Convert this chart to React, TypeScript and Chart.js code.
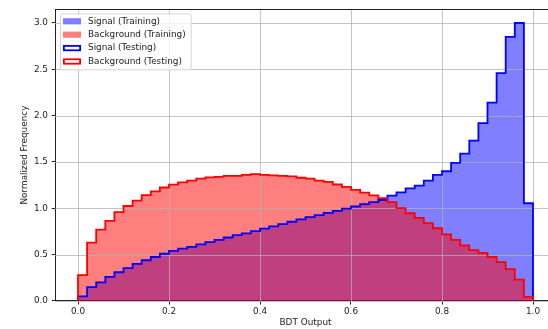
import React, { useEffect, useRef } from "react";
import { Chart, registerables } from "chart.js";

Chart.register(...registerables);

// ---- data ----
const binStart = 0;
const binEnd = 1;

const signalTraining = [
  0.05, 0.15, 0.2, 0.26, 0.31, 0.355, 0.4, 0.44, 0.475, 0.51,
  0.54, 0.565, 0.585, 0.61, 0.635, 0.66, 0.685, 0.71, 0.73, 0.755,
  0.78, 0.805, 0.83, 0.855, 0.88, 0.905, 0.926, 0.95, 0.972, 0.996,
  1.02, 1.045, 1.067, 1.09, 1.137, 1.172, 1.215, 1.245, 1.3, 1.36,
  1.4, 1.49, 1.59, 1.73, 1.92, 2.14, 2.46, 2.85, 3.0, 1.055,
];

const backgroundTraining = [
  0.28, 0.63, 0.77, 0.865, 0.96, 1.025, 1.083, 1.142, 1.183, 1.225,
  1.255, 1.28, 1.3, 1.32, 1.335, 1.34, 1.35, 1.35, 1.36, 1.37,
  1.36, 1.355, 1.35, 1.345, 1.33, 1.32, 1.3, 1.285, 1.257, 1.232,
  1.2, 1.17, 1.14, 1.11, 1.067, 1.003, 0.947, 0.898, 0.84, 0.785,
  0.72, 0.66, 0.6, 0.55, 0.52, 0.475, 0.42, 0.345, 0.23, 0.045,
];

const signalTesting = [
  0.05, 0.15, 0.2, 0.26, 0.31, 0.355, 0.4, 0.44, 0.475, 0.51,
  0.54, 0.565, 0.585, 0.61, 0.635, 0.66, 0.685, 0.71, 0.73, 0.755,
  0.78, 0.805, 0.83, 0.855, 0.88, 0.905, 0.926, 0.95, 0.972, 0.996,
  1.02, 1.045, 1.067, 1.09, 1.137, 1.172, 1.215, 1.245, 1.3, 1.36,
  1.4, 1.49, 1.59, 1.73, 1.92, 2.14, 2.46, 2.85, 3.0, 1.055,
];

const backgroundTesting = [
  0.28, 0.63, 0.77, 0.865, 0.96, 1.025, 1.083, 1.142, 1.183, 1.225,
  1.255, 1.28, 1.3, 1.32, 1.335, 1.34, 1.35, 1.35, 1.36, 1.37,
  1.36, 1.355, 1.35, 1.345, 1.33, 1.32, 1.3, 1.285, 1.257, 1.232,
  1.2, 1.17, 1.14, 1.11, 1.067, 1.003, 0.947, 0.898, 0.84, 0.785,
  0.72, 0.66, 0.6, 0.55, 0.52, 0.475, 0.42, 0.345, 0.23, 0.045,
];

const seriesLabels = [
  "Signal (Training)",
  "Background (Training)",
  "Signal (Testing)",
  "Background (Testing)",
];

const xTickValues = [0, 0.2, 0.4, 0.6, 0.8, 1.0];
const yTickValues = [0, 0.5, 1.0, 1.5, 2.0, 2.5, 3.0];
const xAxisTitle = "BDT Output";
const yAxisTitle = "Normalized Frequency";

// ---- helpers ----
const FONT = "DejaVu Sans";
const FS = 8.9;
const BLUE = "#0000ff";
const RED = "#ff0000";
const BLUE_FILL = "rgba(0,0,255,0.5)";
const RED_FILL = "rgba(255,0,0,0.5)";

function stepPoints(values: number[]) {
  const n = values.length;
  const w = (binEnd - binStart) / n;
  const pts: { x: number; y: number }[] = [{ x: binStart, y: 0 }];
  values.forEach((v, i) => pts.push({ x: binStart + i * w, y: v }));
  pts.push({ x: binEnd, y: values[n - 1] });
  pts.push({ x: binEnd, y: 0 });
  return pts;
}

const gridPlugin = {
  id: "mplGrid",
  afterDatasetDraw(chart: any, args: any) {
    if (args.index !== 1) return;
    const { ctx, chartArea: ca, scales } = chart;
    ctx.save();
    ctx.strokeStyle = "rgba(176,176,176,0.75)";
    ctx.lineWidth = 1;
    ctx.beginPath();
    xTickValues.forEach((v) => {
      const px = Math.round(scales.x.getPixelForValue(v)) + 0.5;
      ctx.moveTo(px, ca.top);
      ctx.lineTo(px, ca.bottom);
    });
    yTickValues.forEach((v) => {
      const py = Math.round(scales.y.getPixelForValue(v)) + 0.5;
      ctx.moveTo(ca.left, py);
      ctx.lineTo(ca.right, py);
    });
    ctx.stroke();
    ctx.restore();
  },
};

const framePlugin = {
  id: "mplFrame",
  afterDraw(chart: any) {
    const { ctx, chartArea: ca } = chart;
    ctx.save();
    ctx.strokeStyle = "#222";
    ctx.lineWidth = 1;
    ctx.beginPath();
    const top = Math.round(ca.top) + 0.5;
    ctx.moveTo(ca.left, top);
    ctx.lineTo(ca.right, top);
    ctx.stroke();

    // legend
    ctx.font = `${FS}px "${FONT}"`;
    const boxLeft = ca.left + 4.75;
    const boxTop = ca.top + 4.2;
    const textX = boxLeft + 28;
    const rowH = 13.4;
    let maxW = 0;
    seriesLabels.forEach((l) => (maxW = Math.max(maxW, ctx.measureText(l).width)));
    const boxW = textX + maxW + 5 - boxLeft;
    const boxH = rowH * seriesLabels.length + 2.5;
    ctx.beginPath();
    ctx.roundRect(boxLeft + 0.5, boxTop + 0.5, boxW, boxH, 2.5);
    ctx.fillStyle = "rgba(255,255,255,0.8)";
    ctx.fill();
    ctx.strokeStyle = "#d6d6d6";
    ctx.lineWidth = 1;
    ctx.stroke();

    const styles = [
      { fill: BLUE_FILL, stroke: null },
      { fill: RED_FILL, stroke: null },
      { fill: "#ffffff", stroke: BLUE },
      { fill: "#ffffff", stroke: RED },
    ];
    seriesLabels.forEach((label, i) => {
      const cy = boxTop + 8 + i * rowH;
      const px = boxLeft + 3;
      const pw = 18;
      const ph = 6.2;
      const st = styles[i];
      if (st.stroke) {
        ctx.fillStyle = st.fill;
        ctx.fillRect(px, cy - ph / 2, pw, ph);
        ctx.strokeStyle = st.stroke;
        ctx.lineWidth = 1.8;
        ctx.strokeRect(px + 0.9, cy - ph / 2 + 0.9, pw - 1.8, ph - 1.8);
      } else {
        ctx.fillStyle = st.fill;
        ctx.fillRect(px, cy - ph / 2, pw, ph);
      }
      ctx.fillStyle = "#222";
      ctx.textBaseline = "middle";
      ctx.textAlign = "left";
      ctx.fillText(label, textX, cy);
    });
    ctx.restore();
  },
};

export default function App() {
  const ref = useRef<HTMLCanvasElement | null>(null);

  useEffect(() => {
    const canvas = ref.current;
    if (!canvas) return;
    const chart = new Chart(canvas, {
      type: "line",
      data: {
        datasets: [
          {
            label: seriesLabels[0],
            data: stepPoints(signalTraining),
            stepped: "before",
            fill: "origin",
            backgroundColor: BLUE_FILL,
            borderColor: "rgba(0,0,0,0)",
            borderWidth: 0,
            pointRadius: 0,
            order: 4,
          },
          {
            label: seriesLabels[1],
            data: stepPoints(backgroundTraining),
            stepped: "before",
            fill: "origin",
            backgroundColor: RED_FILL,
            borderColor: "rgba(0,0,0,0)",
            borderWidth: 0,
            pointRadius: 0,
            order: 3,
          },
          {
            label: seriesLabels[2],
            data: stepPoints(signalTesting),
            stepped: "before",
            fill: false,
            borderColor: BLUE,
            borderWidth: 1.8,
            borderJoinStyle: "miter",
            pointRadius: 0,
            order: 2,
          },
          {
            label: seriesLabels[3],
            data: stepPoints(backgroundTesting),
            stepped: "before",
            fill: false,
            borderColor: RED,
            borderWidth: 1.8,
            borderJoinStyle: "miter",
            pointRadius: 0,
            order: 1,
          },
        ] as any,
      },
      options: {
        animation: false,
        responsive: false,
        devicePixelRatio: 1,
        layout: { padding: { left: 0, right: 4.25, top: 2.8, bottom: 0 } },
        plugins: {
          legend: { display: false },
          tooltip: { enabled: false },
          title: { display: false },
        },
        scales: {
          x: {
            type: "linear",
            min: -0.05,
            max: 1.05,
            afterBuildTicks: (s: any) => {
              s.ticks = xTickValues.map((v) => ({ value: v }));
            },
            afterFit: (s: any) => {
              s.height = 28;
            },
            ticks: {
              callback: (v: any) => Number(v).toFixed(1),
              font: { family: FONT, size: FS },
              color: "#222",
              padding: 2,
              maxRotation: 0,
              autoSkip: false,
            },
            grid: {
              drawOnChartArea: false,
              drawTicks: true,
              tickLength: 3.5,
              tickColor: "#222",
              tickWidth: 1,
            },
            border: { display: true, color: "#222", width: 1 },
            title: {
              display: true,
              text: xAxisTitle,
              font: { family: FONT, size: FS },
              color: "#222",
              padding: { top: 0, bottom: 1 },
            },
          },
          y: {
            type: "linear",
            min: 0,
            max: 3.15,
            afterBuildTicks: (s: any) => {
              s.ticks = yTickValues.map((v) => ({ value: v }));
            },
            afterFit: (s: any) => {
              s.width = 55.25;
            },
            ticks: {
              callback: (v: any) => Number(v).toFixed(1),
              font: { family: FONT, size: FS },
              color: "#222",
              padding: 3.75,
              autoSkip: false,
            },
            grid: {
              drawOnChartArea: false,
              drawTicks: true,
              tickLength: 3.5,
              tickColor: "#222",
              tickWidth: 1,
            },
            border: { display: true, color: "#222", width: 1 },
            title: {
              display: true,
              text: yAxisTitle,
              font: { family: FONT, size: FS },
              color: "#222",
              padding: { top: 19.75, bottom: 0 },
            },
          },
        },
      } as any,
      plugins: [gridPlugin, framePlugin],
    });
    return () => chart.destroy();
  }, []);

  return (
    <div
      style={{
        position: "fixed",
        left: 0,
        top: 0,
        width: 548,
        height: 329,
        overflow: "hidden",
        background: "#fff",
      }}
    >
      <canvas ref={ref} width={560} height={329} style={{ display: "block", width: 560, height: 329 }} />
    </div>
  );
}
